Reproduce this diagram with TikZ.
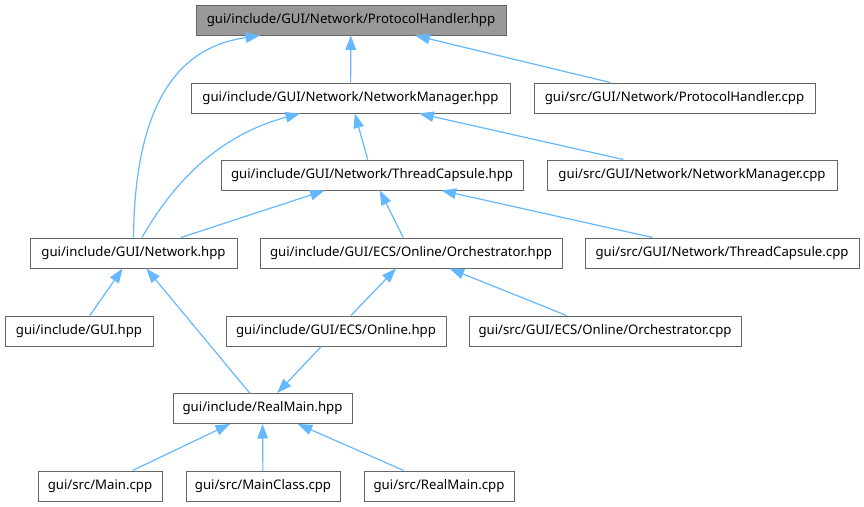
\documentclass[tikz,border=0pt]{standalone}
\usepackage{fontspec}
\setmainfont{Noto Sans}
\usetikzlibrary{arrows.meta}

\definecolor{edgeblue}{HTML}{63B8FF}
\definecolor{boxgray}{HTML}{666666}
\definecolor{rootgray}{HTML}{999999}

\begin{document}
\begin{tikzpicture}[x=1pt,y=-1pt,
box/.style={draw=boxgray,line width=1pt,fill=white,minimum height=30pt,inner sep=0pt,font=\fontsize{13.2}{16}\selectfont},
rootbox/.style={box,fill=rootgray},
dep/.style={edgeblue,line width=1.2pt,-{Triangle[length=14.5pt,width=10.5pt]}}]
\useasboundingbox (0,0) rectangle (864,506);
% network headers
\node[rootbox,minimum width=310pt] (ph) at (351,20) {gui/include/GUI/Network/ProtocolHandler.hpp};
\node[box,minimum width=319pt] (nm) at (350.5,98) {gui/include/GUI/Network/NetworkManager.hpp};
\node[box,minimum width=281pt] (phc) at (674.5,98) {gui/src/GUI/Network/ProtocolHandler.cpp};
\node[box,minimum width=302pt] (tc) at (372,175) {gui/include/GUI/Network/ThreadCapsule.hpp};
\node[box,minimum width=290pt] (nmc) at (692,175) {gui/src/GUI/Network/NetworkManager.cpp};
\node[box,minimum width=207pt] (net) at (133.5,253) {gui/include/GUI/Network.hpp};
\node[box,minimum width=302pt] (orch) at (411,253) {gui/include/GUI/ECS/Online/Orchestrator.hpp};
\node[box,minimum width=274pt] (tcc) at (722,253) {gui/src/GUI/Network/ThreadCapsule.cpp};
% gui and online
\node[box,minimum width=148pt] (gui) at (79,331) {gui/include/GUI.hpp};
\node[box,minimum width=220pt] (onl) at (336,331) {gui/include/GUI/ECS/Online.hpp};
\node[box,minimum width=272pt] (orchc) at (605,331) {gui/src/GUI/ECS/Online/Orchestrator.cpp};
% main
\node[box,minimum width=179pt] (rm) at (262.5,408.5) {gui/include/RealMain.hpp};
\node[box,minimum width=124pt] (mainc) at (100,486) {gui/src/Main.cpp};
\node[box,minimum width=154pt] (mcls) at (263,486) {gui/src/MainClass.cpp};
\node[box,minimum width=150pt] (rmc) at (439,486) {gui/src/RealMain.cpp};
% includes
\foreach \src/\dst in {nm/ph,phc/ph,tc/nm,nmc/nm,net/tc,orch/tc,tcc/tc,gui/net,rm/net,onl/orch,orchc/orch,onl/rm,mainc/rm,mcls/rm,rmc/rm}
  \draw[dep] (\src) -- (\dst);
\draw[dep] (net.north) .. controls (135,80) and (195,45) .. ([xshift=-91pt]ph.south);
\draw[dep] ([xshift=8.5pt]net.north) .. controls (175,180) and (220,135) .. ([xshift=-50.5pt]nm.south);
\end{tikzpicture}
\end{document}
